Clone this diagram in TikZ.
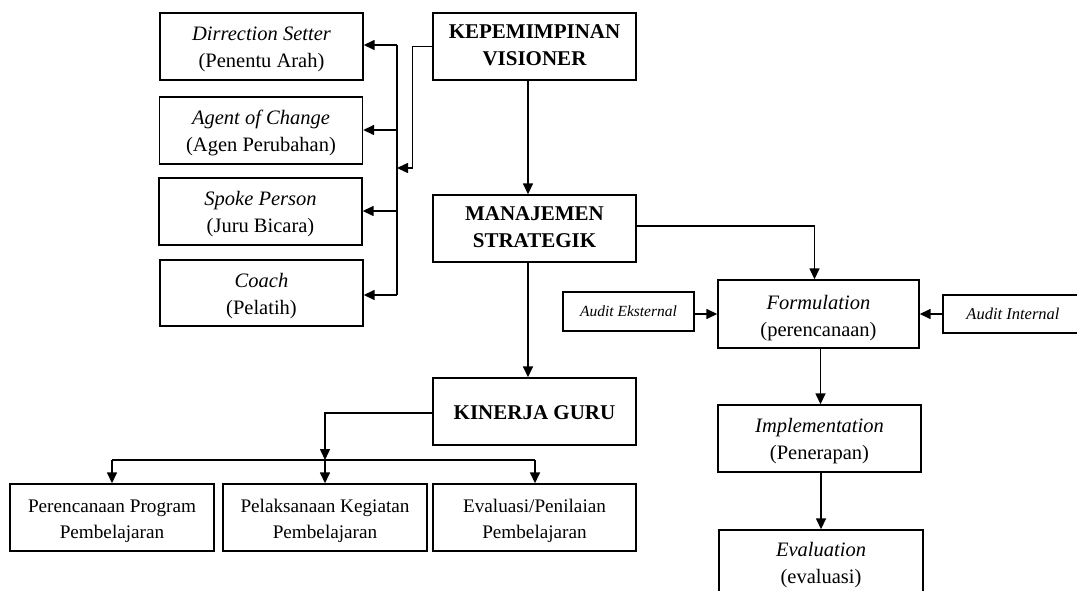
\documentclass[tikz,border=0pt]{standalone}
\usepackage{fontspec}
\setmainfont{Liberation Serif}
\usetikzlibrary{arrows.meta}
\newcommand{\twoline}[3][-2.5pt]{\raisebox{#1}[\height][\depth]{\begin{tabular}{@{}c@{}}#2\\#3\end{tabular}}}
\begin{document}
\begin{tikzpicture}[x=1pt,y=-1pt,
  line width=1.5pt,
  bx/.style={draw, line width=1.4pt, inner sep=0pt, minimum width=203pt, minimum height=67pt, align=center, font=\fontsize{20.5}{27}\selectfont},
  hd/.style={bx, font=\fontsize{21}{27}\selectfont\bfseries},
  bt/.style={bx, minimum width=204pt, font=\fontsize{19.2}{26}\selectfont},
  arr/.style={-{Triangle[length=11pt,width=10pt]}}
]
\useasboundingbox (0,0) rectangle (1077,591);
\clip (0,0) rectangle (1077,591);

% left column
\node[bx] (ds) at (261.5,46.5) {\twoline{\textit{Dirrection Setter}}{(Penentu Arah)}};
\node[bx] (ag) at (261,130.5) {\twoline{\textit{Agent of Change}}{(Agen Perubahan)}};
\node[bx] (sp) at (260.5,211.5) {\twoline{\textit{Spoke Person}}{(Juru Bicara)}};
\node[bx, minimum height=66pt] (co) at (261.5,293) {\twoline{\textit{Coach}}{(Pelatih)}};

% central column
\node[hd] (kep) at (534.5,46.5) {\twoline[-0.5pt]{KEPEMIMPINAN}{VISIONER}};
\node[hd] (man) at (534.5,228.5) {\twoline[-0.5pt]{MANAJEMEN}{STRATEGIK}};
\node[hd] (kin) at (534.5,411.5) {\raisebox{-1.5pt}[\height][\depth]{KINERJA GURU}};

% right column
\node[bx, minimum width=201pt, minimum height=68pt] (form) at (818.5,314) {\twoline[-4pt]{\textit{Formulation}}{(perencanaan)}};
\node[bx, minimum width=131pt, minimum height=39pt, font=\fontsize{15.5}{18}\selectfont\itshape] (ae) at (628.5,311.5) {Audit Eksternal};
\node[bx, minimum width=140pt, minimum height=38pt, font=\fontsize{16.5}{19}\selectfont\itshape] (ai) at (1013,314) {Audit Internal};
\node[bx] (imp) at (819.5,438.5) {\twoline[-2pt]{\textit{Implementation}}{(Penerapan)}};
\node[bx, minimum width=204pt, minimum height=70pt] (ev) at (821,565) {\twoline[0pt]{\textit{Evaluation}}{(evaluasi)}};

% bottom row
\node[bt] (p1) at (112,517.5) {\twoline[-3pt]{Perencanaan Program}{Pembelajaran}};
\node[bt] (p2) at (325,517.5) {\twoline[-3pt]{Pelaksanaan Kegiatan}{Pembelajaran}};
\node[bt, minimum width=203pt] (p3) at (534.5,517.5) {\twoline[-3pt]{Evaluasi/Penilaian}{Pembelajaran}};

% left bus
\coordinate (b1) at (397,45);
\coordinate (b2) at (397,130);
\coordinate (b3) at (397,211);
\coordinate (b4) at (397,295);
\draw (b1) -- (b4);
\draw[arr] (b1) -- (b1 -| ds.east);
\draw[arr] (b2) -- (b2 -| ag.east);
\draw[arr] (b3) -- (b3 -| sp.east);
\draw[arr] (b4) -- (b4 -| co.east);
\coordinate (kj) at (412.5,168);
\coordinate (km) at (397,168);
\draw[arr] (kep.west) -| (kj) -- (km);

% central arrows
\draw[arr] ([xshift=-6.5pt]kep.south) -- ([xshift=-6.5pt]man.north);
\draw[arr] ([xshift=-6.5pt]man.south) -- ([xshift=-6.5pt]kin.north);
\draw[arr] ([yshift=2.5pt]man.east) -| ([xshift=-4pt]form.north);

% right arrows
\draw[arr] ([yshift=-2.5pt]ae.east) -- ([yshift=-2.5pt]ae.east -| form.west);
\draw[arr] (ai.west) -- (ai.west -| form.east);
\draw[arr] ([xshift=2pt]form.south) -- ([xshift=1pt]imp.north);
\draw[arr] ([xshift=1.5pt]imp.south) -- (ev.north);

% bottom bus
\coordinate (kb) at (325,460);
\coordinate (bl) at (112,460);
\coordinate (br) at (535,460);
\draw[arr] ([yshift=-1.5pt]kin.west) -| (kb);
\draw (bl) -- (br);
\draw[arr] (bl) -- (p1.north);
\draw[arr] (kb) -- (p2.north);
\draw[arr] (br) -- (br |- p3.north);
\end{tikzpicture}
\end{document}
